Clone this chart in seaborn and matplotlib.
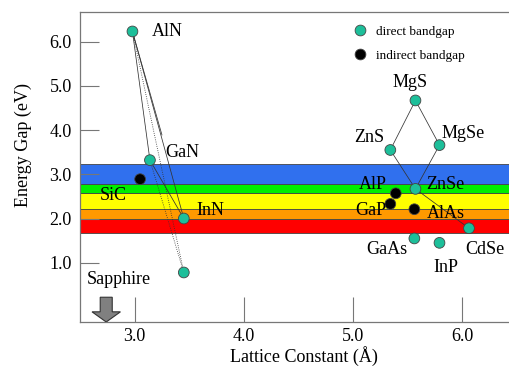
import matplotlib
matplotlib.use("Agg")
import matplotlib.pyplot as plt
import seaborn as sns
import pandas as pd

# ---- data ----
materials = ["AlN", "GaN", "InN", "InN_low", "SiC", "MgS", "ZnS", "MgSe", "ZnSe",
             "AlP", "GaP", "AlAs", "CdSe", "GaAs", "InP"]
lattice = [2.98, 3.14, 3.45, 3.45, 3.05, 5.57, 5.34, 5.79, 5.57,
           5.39, 5.34, 5.56, 6.06, 5.56, 5.79]
energy_gap = [6.23, 3.32, 2.00, 0.78, 2.89, 4.67, 3.55, 3.66, 2.67,
              2.57, 2.33, 2.21, 1.78, 1.55, 1.45]
gap_type = ["direct bandgap", "direct bandgap", "direct bandgap", "direct bandgap",
            "indirect bandgap", "direct bandgap", "direct bandgap", "direct bandgap",
            "direct bandgap", "indirect bandgap", "indirect bandgap", "indirect bandgap",
            "direct bandgap", "direct bandgap", "direct bandgap"]

# visible spectrum bands (bottom, top, colour)
band_lo = [1.68, 2.00, 2.22, 2.57, 2.77]
band_hi = [2.00, 2.22, 2.57, 2.77, 3.23]
band_colors = ["#ff0000", "#ff9900", "#ffff00", "#00ee00", "#3070ee"]

# connecting lines (solid / dotted)
solid_links = [("AlN", "GaN"), ("AlN", "InN"), ("GaN", "InN"),
               ("MgS", "ZnS"), ("MgS", "MgSe"), ("ZnS", "ZnSe"),
               ("MgSe", "ZnSe"), ("ZnSe", "CdSe")]
dotted_links = [("AlN", "InN_low"), ("GaN", "InN_low")]

# label text, anchor and alignment
labels = {
    "AlN": (3.155, 6.22, "left"),
    "GaN": (3.283, 3.50, "left"),
    "SiC": (2.68, 2.53, "left"),
    "InN": (3.566, 2.19, "left"),
    "MgS": (5.525, 5.07, "center"),
    "ZnS": (5.283, 3.84, "right"),
    "MgSe": (5.813, 3.93, "left"),
    "ZnSe": (5.667, 2.76, "left"),
    "AlP": (5.31, 2.76, "right"),
    "GaP": (5.30, 2.19, "right"),
    "AlAs": (5.676, 2.11, "left"),
    "GaAs": (5.306, 1.29, "center"),
    "InP": (5.845, 0.89, "center"),
    "CdSe": (6.03, 1.29, "left"),
}

df = pd.DataFrame({"material": materials, "a": lattice, "Eg": energy_gap, "type": gap_type})
pos = df.set_index("material")

plt.rcParams["font.family"] = ["Liberation Serif", "DejaVu Serif"]

fig = plt.figure(figsize=(5.09, 3.68), dpi=100)
ax = fig.add_axes([80 / 509, 46 / 368, 448 / 509, 310 / 368])

for lo, hi, c in zip(band_lo, band_hi, band_colors):
    ax.axhspan(lo, hi, facecolor=c, edgecolor="#444444", linewidth=0.6, zorder=1)

for a, b in solid_links:
    ax.plot([pos.loc[a, "a"], pos.loc[b, "a"]], [pos.loc[a, "Eg"], pos.loc[b, "Eg"]],
            color="#333333", lw=0.55, zorder=2)
for a, b in dotted_links:
    ax.plot([pos.loc[a, "a"], pos.loc[b, "a"]], [pos.loc[a, "Eg"], pos.loc[b, "Eg"]],
            color="#333333", lw=0.6, ls=":", zorder=2)
# short stray line from AlN
ax.plot([pos.loc["AlN", "a"], 3.25], [pos.loc["AlN", "Eg"], 3.89], color="#333333", lw=0.55, zorder=2)

sns.scatterplot(data=df, x="a", y="Eg", hue="type",
                palette={"direct bandgap": "#1dbf9a", "indirect bandgap": "black"},
                s=60, edgecolor="#444444", linewidth=0.6, zorder=3, ax=ax)

for name, (x, y, ha) in labels.items():
    ax.text(x, y, name, ha=ha, va="center", fontsize=13, zorder=4)

ax.text(2.56, 0.61, "Sapphire", ha="left", va="center", fontsize=13)
ax.arrow(2.74, 0.22, 0, -0.56, width=0.11, head_width=0.26, head_length=0.23,
         length_includes_head=True, facecolor="#808080", edgecolor="#333333", lw=0.8, zorder=3)

ax.set_xlim(2.5, 6.6)
ax.set_ylim(-0.34, 6.67)
ax.set_xticks([3, 4, 5, 6])
ax.set_xticklabels(["3.0", "4.0", "5.0", "6.0"])
ax.set_yticks([1, 2, 3, 4, 5, 6])
ax.set_yticklabels(["1.0", "2.0", "3.0", "4.0", "5.0", "6.0"])
ax.tick_params(axis="both", direction="in", colors="#777777", labelcolor="black",
               labelsize=13, width=0.8)
ax.tick_params(axis="y", length=14, pad=6)
ax.tick_params(axis="x", length=18, pad=4)

ax.set_xlabel("Lattice Constant (Å)", fontsize=13, labelpad=1)
ax.set_ylabel("Energy Gap (eV)", fontsize=13)
ax.yaxis.set_label_coords(-48 / 448, 0.57)

for s in ["left", "bottom", "top"]:
    ax.spines[s].set_color("#777777")
    ax.spines[s].set_linewidth(0.9)
ax.spines["right"].set_visible(False)

handles, labs = ax.get_legend_handles_labels()
ax.legend(handles, labs, loc="upper left", bbox_to_anchor=(0.57, 0.995), frameon=False,
          fontsize=9.5, handletextpad=0.2, labelspacing=0.9, markerscale=1.0)

fig.savefig("out.png", dpi=100)
